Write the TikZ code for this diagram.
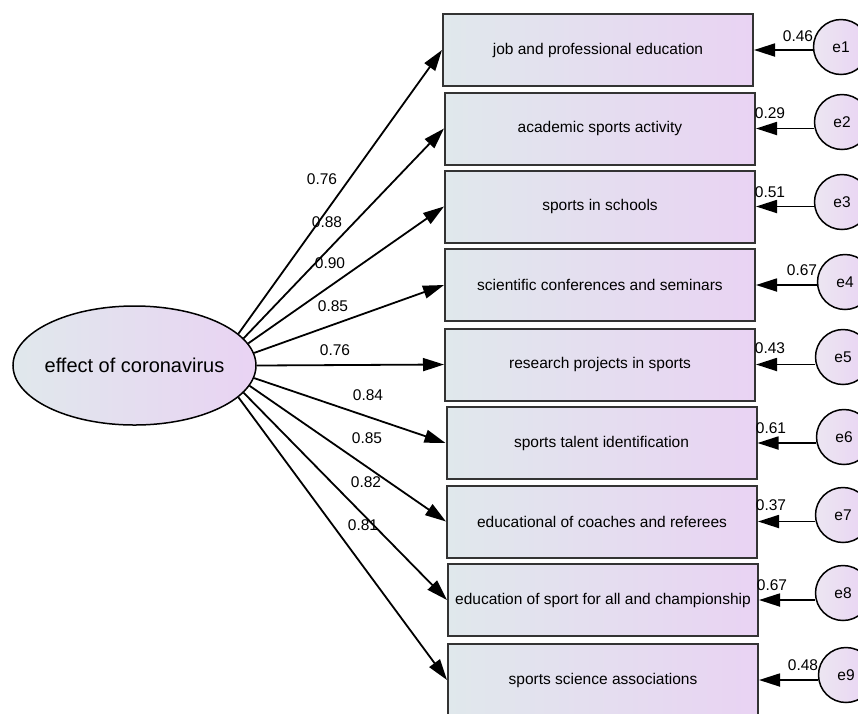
\documentclass[tikz,border=0pt]{standalone}
\usepackage{fontspec}
\setmainfont{Liberation Sans}
\usetikzlibrary{arrows.meta,shapes.geometric}

\definecolor{lblue}{RGB}{224,232,236}
\definecolor{lvio}{RGB}{233,211,243}
\definecolor{lpale}{RGB}{236,230,242}

\tikzset{
  obs/.style={draw=black!80, line width=2pt, left color=lblue, right color=lvio, minimum width=310pt, minimum height=72pt, inner sep=2pt, font=\fontsize{15.5}{18}\selectfont},
  lat/.style={ellipse, draw, line width=1.5pt, left color=lblue, right color=lvio, minimum width=243pt, minimum height=119pt, inner xsep=-6pt, inner ysep=0pt, font=\fontsize{20}{24}\selectfont},
  err/.style={circle, draw, line width=1.5pt, left color=lpale, right color=lvio, minimum size=55pt, inner sep=0pt, font=\fontsize{15.5}{18}\selectfont},
  coef/.style={inner sep=0pt, font=\fontsize{15.5}{18}\selectfont},
  arr/.style={-{Triangle[length=21pt,width=13pt]}, line width=1.8pt}
}

\begin{document}
\begin{tikzpicture}[x=1pt, y=-1pt]
\useasboundingbox (0,0) rectangle (858,713);
\clip (0,0) rectangle (858,713);

% latent factor
\node[lat] (eff) at (134.5,365.5) {effect of coronavirus};

% observed items
\foreach \i/\x/\y/\txt in {1/598/50/job and professional education, 2/600/128.5/academic sports activity, 3/600/206.5/sports in schools, 4/600/285/scientific conferences and seminars, 5/600/364.5/research projects in sports, 6/601.5/443/sports talent identification, 7/602/521.5/educational of coaches and referees, 8/603/600/education of sport for all and championship, 9/603/680/sports science associations}
  \node[obs] (b\i) at (\x,\y) {\txt};

% error terms
\foreach \i/\x/\y in {1/841/47, 2/842/122, 3/842/202, 4/845/282, 5/843/357, 6/844/437, 7/843/515, 8/843/593, 9/846/675}
  \node[err] (e\i) at (\x,\y) {e\i};

% loadings
\foreach \i/\a/\v/\lx/\ly in {1/17/0.76/322/179, 2/14/0.88/327/222, 3/11/0.90/330/263, 4/6/0.85/333/306, 5/0/0.76/335/350, 6/-6/0.84/368/395, 7/-10/0.85/367/438, 8/-14/0.82/366/482, 9/-17/0.81/363/525} {
  \draw[arr] (eff.\a) -- (b\i.west);
  \node[coef] (p\i) at (\lx,\ly) {\v};
}

% error paths
\foreach \i/\v/\lx/\ly in {1/0.46/798/36, 2/0.29/770/113, 3/0.51/770/192, 4/0.67/802/270, 5/0.43/770/348, 6/0.61/771/428, 7/0.37/771/505, 8/0.67/772/585, 9/0.48/803/665} {
  \draw[arr] (e\i.west |- b\i.east) -- (b\i.east);
  \node[coef] (r\i) at (\lx,\ly) {\v};
}
\end{tikzpicture}
\end{document}
